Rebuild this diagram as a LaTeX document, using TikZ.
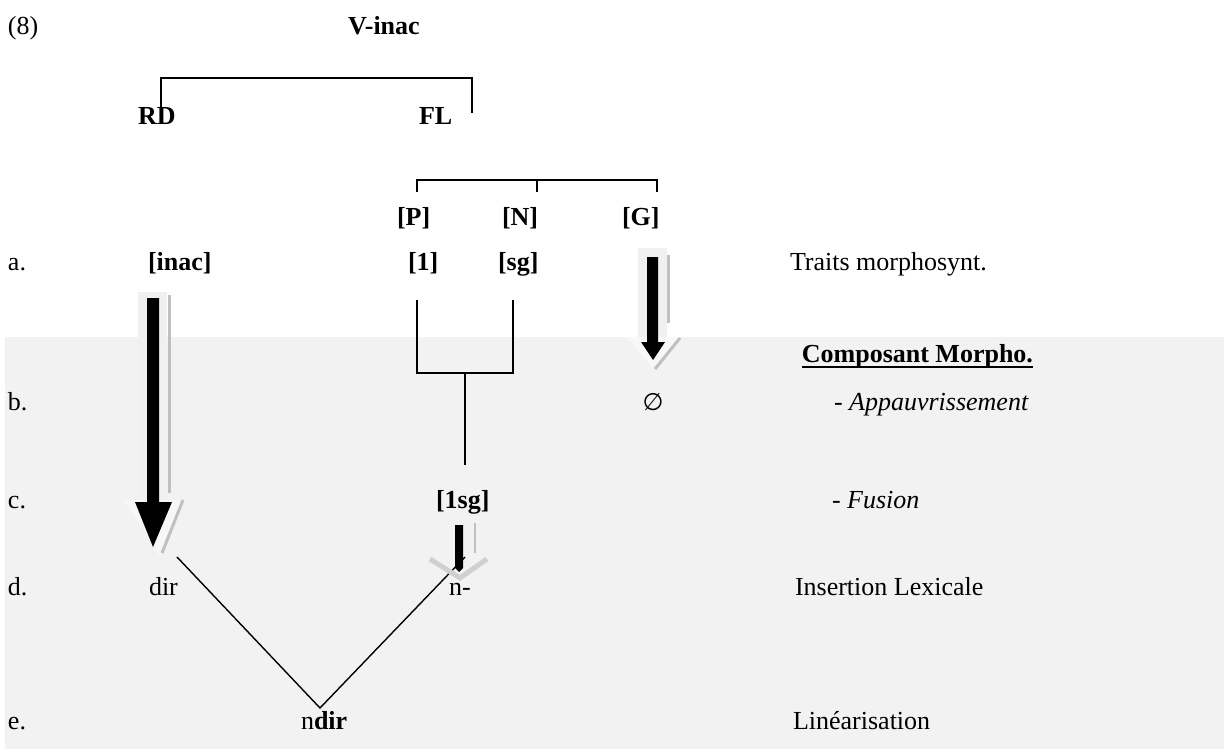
\documentclass[tikz,border=0pt]{standalone}
\usepackage{fontspec}
\setmainfont{Liberation Serif}
\newfontfamily\symfont{DejaVu Sans}
\definecolor{band}{HTML}{F2F2F2}
\definecolor{shadegray}{HTML}{C0C0C0}
\definecolor{pale}{HTML}{F0F0F0}
\definecolor{paler}{HTML}{F8F8F8}
\definecolor{chev}{HTML}{D0D0D0}
\begin{document}
\begin{tikzpicture}[x=1pt,y=-1pt,
  every node/.style={inner sep=0pt,outer sep=0pt,font=\fontsize{26}{31}\selectfont},
  lbl/.style={anchor=base west},
  bl/.style={anchor=base west,font=\fontsize{26}{31}\selectfont\bfseries},
  tree/.style={line width=1.6pt,black},
  shadowline/.style={line width=3pt,draw=shadegray},
  blk/.style={fill=black,draw=none}]
\useasboundingbox (0,0) rectangle (1224,749);
\fill[white] (0,0) rectangle (1224,749);
\fill[band] (5,337) rectangle (1224,749);

% texts
\node[lbl] (n8) at (8,35) {(8)};
\node[bl] (vinac) at (348,35) {V-inac};
\node[bl] (rd) at (138,125) {RD};
\node[bl] (fl) at (419,125) {FL};
\node[bl] (p) at (397,225) {[P]};
\node[bl] (nn) at (502,225) {[N]};
\node[bl] (g) at (622,225) {[G]};
\node[lbl] (la) at (8,270) {a.};
\node[bl] (inac) at (148,270) {[inac]};
\node[bl] (one) at (408,270) {[1]};
\node[bl] (sg) at (498,270) {[sg]};
\node[lbl] (traits) at (790,270) {Traits morphosynt.};
\node[anchor=base east,font=\fontsize{26}{31}\selectfont\bfseries] (comp) at (1033,362) {Composant Morpho.};
\draw[line width=2pt] ([yshift=-5pt]comp.base west) -- ([yshift=-5pt]comp.base east);
\node[lbl] (lb) at (8,410) {b.};
\node[anchor=base,font=\fontsize{24}{28}\selectfont\symfont] (empty) at (653,410) {∅};
\node[lbl] (app) at (834,410) {- \textit{Appauvrissement}};
\node[lbl] (lc) at (8,508) {c.};
\node[bl] (onesg) at (436,508) {[1sg]};
\node[lbl] (fus) at (832,508) {- \textit{Fusion}};
\node[lbl] (ld) at (8,595) {d.};
\node[lbl] (dir) at (149,595) {dir};
\node[lbl] (nm) at (449,595) {n-};
\node[lbl] (ins) at (795,595) {Insertion Lexicale};
\node[lbl] (le) at (8,729) {e.};
\node[lbl] (ndir) at (301,729) {n\textbf{dir}};
\node[lbl] (lin) at (793,729) {Linéarisation};

% top bracket RD - FL
\coordinate (rdt) at (161,113);
\coordinate (flt) at (472,113);
\draw[tree] (rdt) -- (161,78) -- (472,78) -- (flt);
% bracket P N G
\coordinate (pt) at (417,192);
\coordinate (nt) at (537,192);
\coordinate (gt) at (657,192);
\draw[tree] (pt) -- (417,180) -- (657,180) -- (gt);
\draw[tree] (nt) -- (537,180);
% fusion bracket
\coordinate (f1) at (417,300);
\coordinate (f2) at (513,300);
\coordinate (fm) at (465,373);
\coordinate (fb) at (465,465);
\draw[tree] (f1) -- (417,373) -- (513,373) -- (f2);
\draw[tree] (fm) -- (fb);
% linearisation lines
\coordinate (vl) at (177,557);
\coordinate (vr) at (465,557);
\coordinate (vb) at (320,708);
\draw[line width=1.4pt] (vl) -- (vb) -- (vr);

% big left arrow
\fill[pale] (138,292) rectangle (167,500);
\fill[band!60!white] (124,500) -- (184,500) -- (160,556) -- cycle;
\draw[shadowline] (169,295) -- (169,493);
\draw[shadowline] (183,500) -- (162,553);
\fill[blk] (147,298) -- (159,298) -- (159,502) -- (172,502) -- (153,547) -- (135,502) -- (147,502) -- cycle;

% arrow at [G]
\fill[pale] (638,248) rectangle (667,337);
\fill[paler] (627,337) -- (680,337) -- (653,369) -- cycle;
\draw[shadowline] (668,255) -- (668,323);
\draw[shadowline] (680,338) -- (655,369);
\fill[blk] (647,257) -- (658,257) -- (658,342) -- (665,342) -- (653,360) -- (641,342) -- (647,342) -- cycle;

% small arrow [1sg] -> n-
\draw[line width=5pt,draw=chev,line join=miter] (430,559) -- (460,578) -- (487,559);
\draw[line width=2.5pt,draw=shadegray] (475,523) -- (475,553);
\fill[blk] (455,525) -- (463,525) -- (463,568) -- (459,572) -- (455,568) -- cycle;
\end{tikzpicture}
\end{document}
